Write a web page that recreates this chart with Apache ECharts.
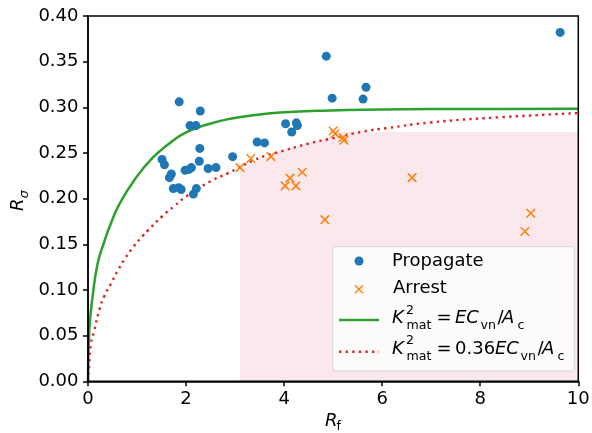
<!DOCTYPE html>
<html><head><meta charset="utf-8">
<script src="https://cdn.jsdelivr.net/npm/echarts@6/dist/echarts.min.js"></script>
<style>html,body{margin:0;padding:0;background:#fff}#c{width:592px;height:433px}</style>
</head><body><div id="c"></div>
<script>
// ---- data ----
const propagateX = [1.86, 2.29, 2.08, 2.20, 2.28, 2.95, 3.45, 3.60, 1.51, 1.56, 1.70, 1.66, 1.98, 2.06, 2.11, 2.27, 2.45, 2.61, 1.74, 1.85, 1.90, 2.21, 2.15, 4.86, 4.98, 5.67, 5.61, 4.03, 4.25, 4.27, 4.155, 9.63];
const propagateY = [0.306, 0.296, 0.280, 0.280, 0.255, 0.246, 0.262, 0.261, 0.243, 0.237, 0.227, 0.223, 0.231, 0.232, 0.234, 0.241, 0.233, 0.234, 0.211, 0.212, 0.210, 0.211, 0.205, 0.356, 0.310, 0.322, 0.309, 0.282, 0.283, 0.280, 0.273, 0.382];
const arrestX = [3.10, 3.32, 3.73, 5.00, 5.04, 5.20, 5.22, 4.37, 4.12, 4.02, 4.24, 6.61, 4.83, 9.03, 8.91];
const arrestY = [0.234, 0.244, 0.246, 0.274, 0.271, 0.267, 0.264, 0.229, 0.2225, 0.214, 0.214, 0.223, 0.177, 0.184, 0.164];
const fullX = [0, 0.027, 0.095, 0.197, 0.333, 0.435, 0.64, 0.98, 1.32, 1.66, 2.0, 2.45, 2.9, 3.4, 3.92, 4.94, 6.0, 6.98, 8.5, 10];
const fullY = [0, 0.056, 0.093, 0.129, 0.153, 0.1685, 0.194, 0.223, 0.2448, 0.2605, 0.2725, 0.2815, 0.2875, 0.2915, 0.2944, 0.2966, 0.2976, 0.2981, 0.2983, 0.2984];
const lowX = [0, 0.027, 0.061, 0.129, 0.23, 0.333, 0.47, 0.606, 0.76, 0.93, 1.116, 1.217, 1.52, 1.76, 2.0, 2.49, 2.86, 3.0, 3.37, 3.68, 3.81, 4.53, 4.94, 5.61, 6.09, 6.98, 8.34, 10];
const lowY = [0, 0.02, 0.0416, 0.056, 0.078, 0.0935, 0.107, 0.1212, 0.1348, 0.1475, 0.1592, 0.165, 0.181, 0.192, 0.2023, 0.2187, 0.228, 0.2318, 0.2418, 0.248, 0.2498, 0.2608, 0.2655, 0.2735, 0.2772, 0.2834, 0.2889, 0.2937];
const shadeX = [3.1, 3.5, 4.0, 4.55, 5.15, 10];
const shadeTop = [0.2325, 0.2425, 0.2535, 0.2615, 0.273, 0.273];
const xRange = [0, 10, 2];
const yRange = [0, 0.40, 0.05];
const legendNames = ['Propagate', 'Arrest'];

// ---- chart ----
const FONT = 'DejaVu Sans';
const pairs = (xs, ys) => xs.map((x, i) => [x, ys[i]]);
function mt(text, x, base, size, italic) {
  return {type: 'text', x: x, y: base - 0.346 * size, z: 101,
    style: {text: text, fontSize: size, fontFamily: FONT, fontStyle: italic ? 'italic' : 'normal',
      fill: '#000', align: 'left', verticalAlign: 'middle'}};
}
const S = 12.6, M = 18;
const graphics = [
  {type: 'rect', z: 100, shape: {x: 332.7, y: 246.7, width: 241.6, height: 124.3, r: 3},
    style: {fill: 'rgba(255,255,255,0.8)', stroke: 'rgba(204,204,204,0.8)', lineWidth: 1}},
  {type: 'circle', z: 101, shape: {cx: 359, cy: 261, r: 4.5}, style: {fill: '#1f77b4'}},
  {type: 'line', z: 101, shape: {x1: 355, y1: 285.3, x2: 363, y2: 293.3}, style: {stroke: '#ff7f0e', lineWidth: 1.5}},
  {type: 'line', z: 101, shape: {x1: 355, y1: 293.3, x2: 363, y2: 285.3}, style: {stroke: '#ff7f0e', lineWidth: 1.5}},
  {type: 'line', z: 101, shape: {x1: 339, y1: 320, x2: 379, y2: 320}, style: {stroke: '#2ca02c', lineWidth: 2.5}},
  {type: 'line', z: 101, shape: {x1: 339, y1: 351.7, x2: 379, y2: 351.7}, style: {stroke: '#d62728', lineWidth: 2.4, lineDash: [2.4, 4.2]}},
  mt(legendNames[0], 392, 267.3, M, false),
  mt(legendNames[1], 393, 295, M, false),
  // row 3: K^2_mat = E C_vn / A_c
  mt('K', 392, 324.7, M, true), mt('2', 406, 314.7, S, false), mt('mat', 406.5, 330.3, S, false),
  mt('=', 436.5, 324.7, M, false), mt('EC', 455, 324.7, M, true), mt('vn', 480.5, 330.3, S, false),
  mt('/', 497.5, 324.7, M, false), mt('A', 502, 324.7, M, true), mt('c', 517.5, 330.3, S, false),
  // row 4: K^2_mat = 0.36 E C_vn / A_c
  mt('K', 392, 355.3, M, true), mt('2', 406, 345.3, S, false), mt('mat', 406.5, 361, S, false),
  mt('=', 436.5, 355.3, M, false), mt('0.36', 455, 355.3, M, false), mt('EC', 495, 355.3, M, true),
  mt('vn', 520.5, 361, S, false), mt('/', 537.5, 355.3, M, false), mt('A', 542, 355.3, M, true),
  mt('c', 557.5, 361, S, false),
  // axis titles
  mt('R', 325, 427.7, M, true), mt('f', 336.5, 431.5, S, false),
  {type: 'group', x: 25, y: 211, rotation: Math.PI / 2, children: [
    mt('R', 0, 0, M, true), mt('σ', 12.8, 3.6, S, true)
  ]}
];

const axisCommon = {
  type: 'value',
  z: 10,
  axisLine: {show: true, onZero: false, lineStyle: {color: '#000', width: 1.5}},
  axisTick: {show: true, inside: false, length: 5, lineStyle: {color: '#000', width: 1.5}},
  splitLine: {show: false},
  axisLabel: {color: '#000', fontSize: 18, fontFamily: FONT, margin: 9.5}
};

const option = {
  animation: false,
  textStyle: {fontFamily: FONT},
  grid: {left: 88, right: 13.7, top: 16, bottom: 51.7, show: true, z: 10, borderColor: '#000', borderWidth: 1.5,
    backgroundColor: 'transparent', containLabel: false, outerBoundsMode: 'none'},
  xAxis: Object.assign({}, axisCommon, {min: xRange[0], max: xRange[1], interval: xRange[2],
    axisLabel: Object.assign({}, axisCommon.axisLabel, {formatter: v => String(v)})}),
  yAxis: Object.assign({}, axisCommon, {min: yRange[0], max: yRange[1], interval: yRange[2],
    axisLabel: Object.assign({}, axisCommon.axisLabel, {formatter: v => v.toFixed(2)})}),
  series: [
    {type: 'line', name: 'shade', data: pairs(shadeX, shadeTop), symbol: 'none', silent: true, z: 1,
      lineStyle: {opacity: 0}, areaStyle: {color: '#fbe8ec', opacity: 1}},
    {type: 'line', name: 'full', data: pairs(fullX, fullY), symbol: 'none', smooth: true,
      silent: true, z: 2, lineStyle: {color: '#2ca02c', width: 2.5}},
    {type: 'line', name: 'low', data: pairs(lowX, lowY), symbol: 'none', smooth: true,
      silent: true, z: 2, lineStyle: {color: '#d62728', width: 2.4, type: [2.4, 4.2], cap: 'butt'}},
    {type: 'scatter', name: legendNames[0], data: pairs(propagateX, propagateY), symbol: 'circle', symbolSize: 9,
      silent: true, z: 3, itemStyle: {color: '#1f77b4', opacity: 1}},
    {type: 'scatter', name: legendNames[1], data: pairs(arrestX, arrestY), symbol: 'path://M0,0L10,10M10,0L0,10',
      symbolSize: 8.5, silent: true, z: 4, itemStyle: {color: 'none', borderColor: '#ff7f0e', borderWidth: 1.5, opacity: 1}}
  ],
  graphic: graphics
};
const chart = echarts.init(document.getElementById('c'), null, {renderer: 'canvas'});
chart.setOption(option);
</script>
</body></html>
